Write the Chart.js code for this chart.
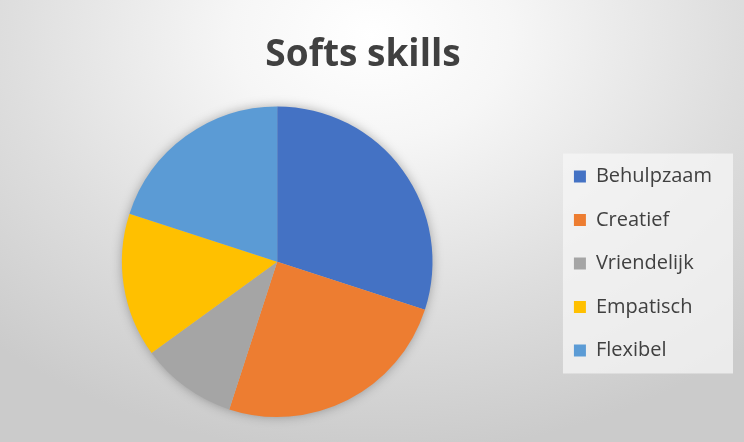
<!DOCTYPE html>
<html>
<head>
<meta charset="utf-8">
<script src="https://cdn.jsdelivr.net/npm/chart.js@4.4.1/dist/chart.umd.min.js"></script>
<style>
  html, body { margin: 0; padding: 0; }
  body {
    width: 744px; height: 442px; overflow: hidden;
    background: radial-gradient(ellipse 75% 95% at 50% 8%, #ffffff 0%, #f6f6f6 25%, #dedede 65%, #cbcbcb 100%);
  }
  #wrap { position: relative; width: 744px; height: 442px; }
</style>
</head>
<body>
<div id="wrap"><canvas id="skills"></canvas></div>
<script>
var labels = ["Behulpzaam", "Creatief", "Vriendelijk", "Empatisch", "Flexibel"];
var values = [30, 25, 10, 15, 20];
var sliceColors = ["#4472C4", "#ED7D31", "#A5A5A5", "#FFC000", "#5B9BD5"];

// soft shadow under the whole pie (drawn once so seams stay clean)
var pieShadow = {
  id: "pieShadow",
  beforeDatasetsDraw: function (chart) {
    var arc = chart.getDatasetMeta(0).data[0];
    if (!arc) return;
    var ctx = chart.ctx;
    ctx.save();
    ctx.shadowColor = "rgba(0,0,0,0.35)";
    ctx.shadowBlur = 12;
    ctx.fillStyle = "#bbbbbb";
    ctx.beginPath();
    ctx.arc(arc.x, arc.y, arc.outerRadius - 1, 0, Math.PI * 2);
    ctx.fill();
    ctx.restore();
  }
};

// light panel behind the legend
var legendPanel = {
  id: "legendPanel",
  beforeDraw: function (chart) {
    var boxes = chart.legend && chart.legend.legendHitBoxes;
    if (!boxes || !boxes.length) return;
    var first = boxes[0], last = boxes[boxes.length - 1];
    var ctx = chart.ctx;
    ctx.save();
    ctx.fillStyle = "rgba(246,246,246,0.75)";
    var x = first.left - 11, y = first.top - 13;
    ctx.fillRect(x, y, 733 - x, last.top + last.height + 13 - y);
    ctx.restore();
  }
};

new Chart("skills", {
  type: "pie",
  data: {
    labels: labels,
    datasets: [{
      data: values,
      backgroundColor: sliceColors,
      borderWidth: 0
    }]
  },
  plugins: [legendPanel, pieShadow],
  options: {
    responsive: true,
    maintainAspectRatio: false,
    animation: false,
    layout: { padding: { left: 4, right: 22, top: 0, bottom: 25 } },
    plugins: {
      title: {
        display: true,
        text: "Softs skills",
        color: "#404040",
        font: { family: "'Open Sans'", size: 37, weight: "bold" },
        padding: { top: 33, bottom: 29 }
      },
      legend: {
        position: "right",
        align: "start",
        title: { display: true, text: " ", font: { size: 10 }, padding: 65.5 },
        labels: {
          color: "#404040",
          font: { family: "'Open Sans'", size: 20 },
          boxWidth: 12,
          boxHeight: 12,
          padding: 23.5
        }
      },
      tooltip: { enabled: false }
    }
  }
});
</script>
</body>
</html>
